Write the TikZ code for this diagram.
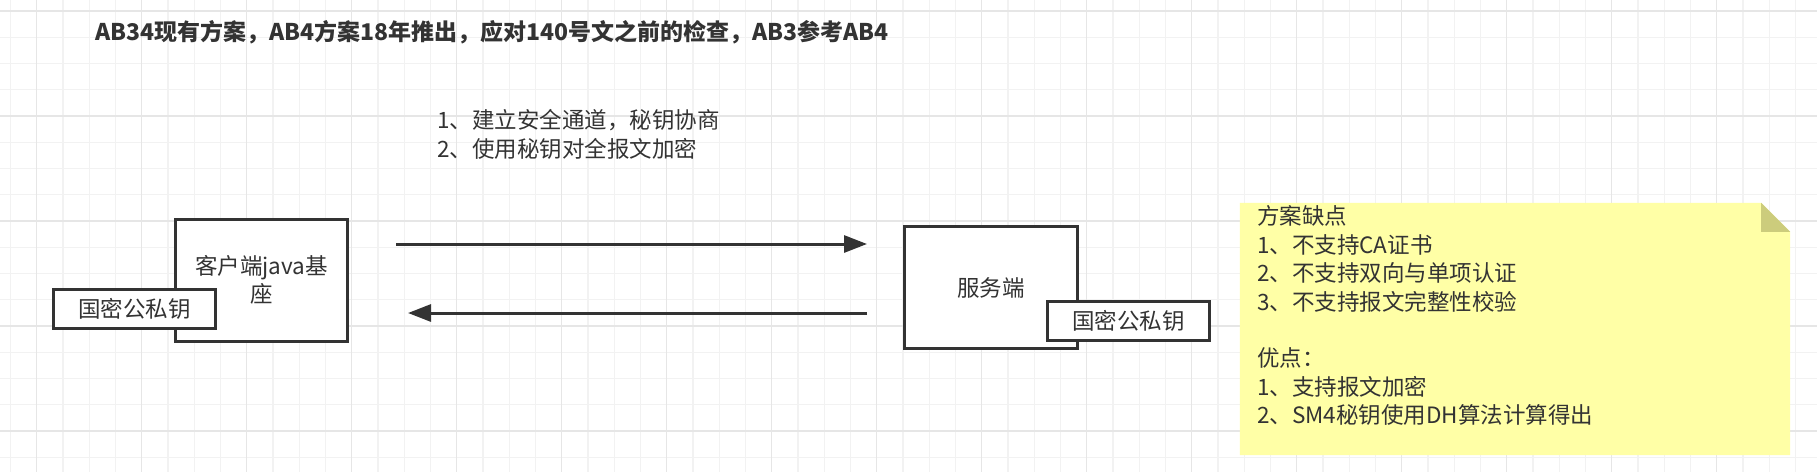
\documentclass[tikz,border=0pt]{standalone}
\usepackage{fontspec}
\setmainfont{Noto Sans CJK SC}
\usetikzlibrary{arrows.meta, positioning, calc}
\definecolor{ink}{HTML}{333333}
\definecolor{notefill}{HTML}{FFFFA6}
\definecolor{notefold}{HTML}{CCCC7C}
\definecolor{gridminor}{HTML}{F2F2F2}
\definecolor{gridmajor}{HTML}{E6E6E6}

\begin{document}
\begin{tikzpicture}[x=1pt, y=-1pt,
			every node/.style = {
				font=\fontsize{22.5}{28.4}\selectfont, text=ink
			},
			box/.style = {
				draw=ink, line width=3pt, fill=white,
				minimum width=172pt, minimum height=122pt,
				align=center, text width=160pt
			},
			keybox/.style = {
				draw=ink, line width=3pt, fill=white,
				minimum width=162pt, minimum height=39pt, inner sep=0pt
			},
			msg/.style = {
				draw=ink, line width=3pt, -{Triangle[length=23pt, width=17pt]}
			}]
			% background and grid
			\useasboundingbox (0,0) rectangle (1817,472);
			\fill[white] (0,0) rectangle (1817,472);
			\foreach \gx in {0,...,69}
				\draw[gridminor, line width=1.2pt] (10.45+26.25*\gx,0) -- ++(0,472);
			\foreach \gy in {0,...,17}
				\draw[gridminor, line width=1.2pt] (0,11+26.25*\gy) -- ++(1817,0);
			\foreach \gx in {0,...,17}
				\draw[gridmajor, line width=1.4pt] (36.7+105*\gx,0) -- ++(0,472);
			\foreach \gy in {0,...,4}
				\draw[gridmajor, line width=1.4pt] (0,11+105*\gy) -- ++(1817,0);
			% title
			\node (title) [anchor=west, font=\fontsize{23}{28}\selectfont\bfseries] at (91.5,32)
				{AB34现有方案，AB4方案18年推出，应对140号文之前的检查，AB3参考AB4};
			% client side
			\node (client) [box] at (261.5,280) {客户端java基\\座};
			\node (keyL) [keybox] at (134.5,309) {国密公私钥};
			% server side
			\node (server) [box, minimum width=173pt] at (991,287.5) {服务端};
			\node (keyR) [keybox] at (1128.5,321) {国密公私钥};
			% messages
			\node (steps) [anchor=north west, align=left, inner sep=0pt] at (437,109.3)
				{1、建立安全通道，秘钥协商\\2、使用秘钥对全报文加密};
			\coordinate (reqA) at ($(client.east)+(47,-36)$);
			\coordinate (reqB) at ($(server.west)+(-36,-43.5)$);
			\coordinate (rspA) at ($(server.west)+(-36,25.5)$);
			\coordinate (rspB) at ($(client.east)+(59,33)$);
			\draw[msg] (reqA) -- (reqB);
			\draw[msg] (rspA) -- (rspB);
			% note
			\node (note) [minimum width=550pt, minimum height=252pt, inner sep=0pt] at (1515,329) {};
			\fill[notefill] (note.north west) -- ([xshift=-29pt]note.north east)
				-- ([yshift=-29pt]note.north east) -- (note.south east) -- (note.south west) -- cycle;
			\fill[notefold] ([xshift=-29pt]note.north east) -- ([xshift=-29pt, yshift=-29pt]note.north east)
				-- ([yshift=-29pt]note.north east) -- cycle;
			\node (noteText) [anchor=north west, align=left, inner sep=0pt] at ([xshift=17pt, yshift=-2.8pt]note.north west)
				{方案缺点\\1、不支持CA证书\\2、不支持双向与单项认证\\3、不支持报文完整性校验\\[28.4pt]
				 优点：\\1、支持报文加密\\2、SM4秘钥使用DH算法计算得出};
		\end{tikzpicture}
\end{document}
